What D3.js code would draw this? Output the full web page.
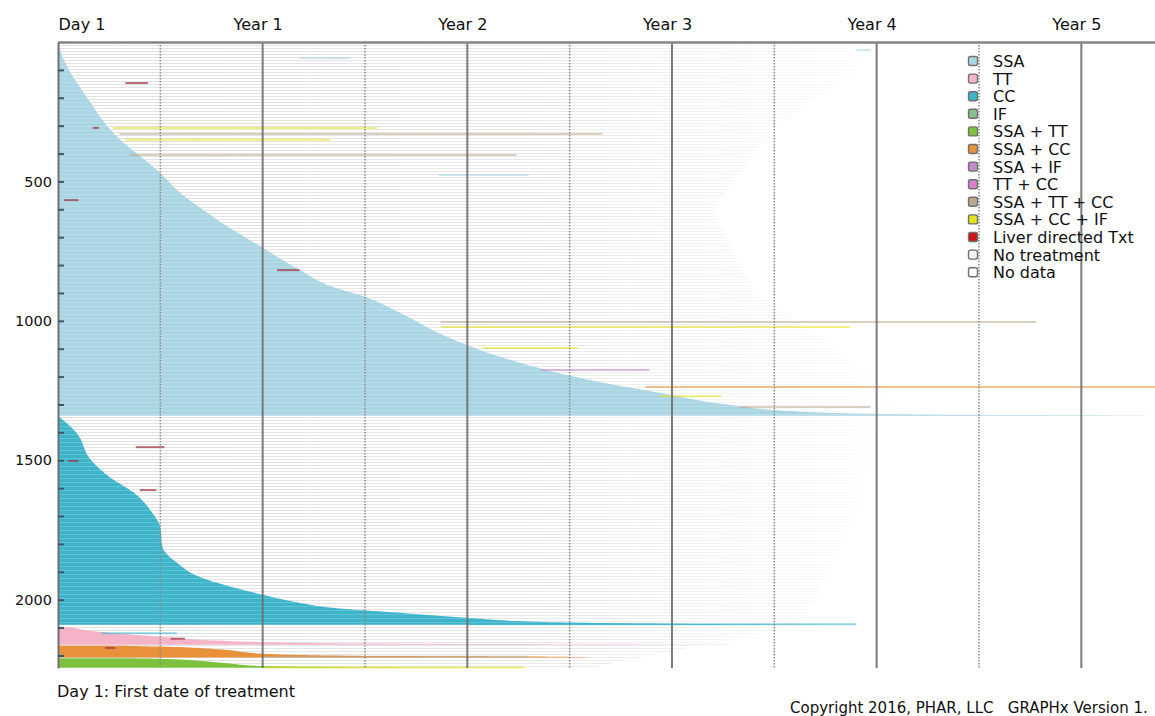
<!DOCTYPE html>
<html>
<head>
<meta charset="utf-8">
<script src="https://cdn.jsdelivr.net/npm/d3@7/dist/d3.min.js"></script>
<style>
  html, body { margin: 0; padding: 0; background: #fff; }
  svg { display: block; }
</style>
</head>
<body>
<svg id="chart" width="1155" height="716"></svg>
<script>
// ---- data ----
// x: years since first treatment, y: patient row (sorted within each block)
const yearTicks = [0, 1, 2, 3, 4, 5];
const yearLabels = ["Day 1", "Year 1", "Year 2", "Year 3", "Year 4", "Year 5"];
const halfYearTicks = [0.5, 1.5, 2.5, 3.5, 4.5];
const rowLabels = [500, 1000, 1500, 2000];
const rowMinorTicks = d3.range(100, 2300, 100);
const totalRows = 2245;
const maxYears = 5.36;

// legend
const categories = ["SSA", "TT", "CC", "IF", "SSA + TT", "SSA + CC", "SSA + IF", "TT + CC",
  "SSA + TT + CC", "SSA + CC + IF", "Liver directed Txt", "No treatment", "No data"];
const categoryColors = ["#aad5e3", "#f5b3c7", "#3cb4c9", "#86c08a", "#7dc23f", "#e8903a", "#bf8cc8",
  "#d97fcb", "#b9a990", "#e6e21e", "#d0141a", "#f2f2f2", "#ffffff"];

// boundary of each block: [row, years on first treatment]
const ssaBlock = [[0, 0], [29, 0.01], [208, 0.15], [326, 0.27], [470, 0.5], [530, 0.58], [638, 0.78],
  [738, 1.0], [817, 1.18], [878, 1.34], [914, 1.5], [971, 1.67], [1057, 1.9], [1147, 2.24],
  [1211, 2.59], [1258, 2.94], [1301, 3.28], [1326, 3.63], [1336, 4.23], [1340, 5.36]];
const ccBlock = [[1340, 0], [1401, 0.09], [1498, 0.16], [1559, 0.25], [1616, 0.37], [1688, 0.46],
  [1738, 0.5], [1810, 0.51], [1867, 0.58], [1918, 0.69], [1953, 0.84], [1982, 1.0], [2011, 1.18],
  [2029, 1.34], [2047, 1.67], [2065, 2.0], [2078, 2.3], [2086, 3.0], [2090, 3.9]];
const ttBlock = [[2096, 0], [2099, 0.06], [2108, 0.12], [2133, 0.5], [2151, 0.94], [2157, 1.5],
  [2160, 2.6], [2162, 3.6]];
const ssaCcBlock = [[2165, 0.3], [2168, 0.5], [2179, 0.8], [2194, 1.0], [2201, 1.4], [2204, 2.3],
  [2207, 2.6]];
const ssaTtBlock = [[2210, 0.35], [2212, 0.5], [2226, 0.8], [2238, 1.0], [2241, 1.3], [2244, 2.3]];

// follow-up without treatment (faint grey rows): [row, years]
const followUp = [[0, 4.0], [100, 3.9], [300, 3.5], [600, 3.2], [900, 3.4], [1100, 3.8],
  [1340, 4.2], [1345, 4.0], [1700, 3.9], [2000, 3.7], [2095, 3.6], [2245, 2.6]];

// single later-line treatments: [row, start year, end year, category index]
const extraLines = [[29, 3.9, 3.97, 0], [57, 1.18, 1.43, 0], [308, 0.27, 1.56, 9], [330, 0.3, 2.66, 8],
  [351, 0.33, 1.33, 9], [405, 0.35, 2.24, 8], [477, 1.86, 2.3, 0], [1004, 1.87, 4.78, 8],
  [1022, 1.87, 3.87, 9], [1097, 2.08, 2.54, 9], [1176, 2.36, 2.89, 6], [1237, 2.87, 5.36, 5],
  [1270, 2.94, 3.24, 9], [1309, 3.33, 3.97, 8], [2120, 0.21, 0.58, 2], [2088, 2.0, 3.9, 2],
  [2205, 1.0, 2.3, 8], [2243, 1.0, 2.28, 9]];

// liver directed treatment marks: [row, start year, end year]
const liverMarks = [[147, 0.33, 0.44], [308, 0.17, 0.2], [567, 0.03, 0.1], [818, 1.07, 1.18],
  [1453, 0.38, 0.52], [1503, 0.05, 0.1], [1607, 0.4, 0.48], [2140, 0.55, 0.62], [2173, 0.23, 0.28]];

// ---- layout ----
const svg = d3.select("#chart");
const margin = { left: 58, top: 42, right: 0, bottom: 48 };
const width = 1155, height = 716;
const fontFamily = "'DejaVu Sans', Verdana, sans-serif";

const x = d3.scaleLinear().domain([0, maxYears]).range([margin.left, width]);
const y = d3.scaleLinear().domain([0, totalRows]).range([margin.top, height - margin.bottom]);

const defs = svg.append("defs");
defs.append("pattern")
  .attr("id", "rows")
  .attr("patternUnits", "userSpaceOnUse")
  .attr("width", 6).attr("height", 3)
  .append("rect")
  .attr("width", 6).attr("height", 1)
  .attr("fill", "#c4c4c4");
defs.append("pattern")
  .attr("id", "rowsWhite")
  .attr("patternUnits", "userSpaceOnUse")
  .attr("width", 6).attr("height", 4)
  .append("rect")
  .attr("y", 2)
  .attr("width", 6).attr("height", 0.8)
  .attr("fill", "#ffffff");

// fade of the grey follow-up rows towards later years
const fade = defs.append("linearGradient")
  .attr("id", "fadeGrad")
  .attr("gradientUnits", "userSpaceOnUse")
  .attr("x1", x(0)).attr("x2", x(4.2)).attr("y1", 0).attr("y2", 0);
fade.append("stop").attr("offset", 0).attr("stop-color", "#fff").attr("stop-opacity", 1);
fade.append("stop").attr("offset", 0.55).attr("stop-color", "#fff").attr("stop-opacity", 0.75);
fade.append("stop").attr("offset", 1).attr("stop-color", "#fff").attr("stop-opacity", 0);
defs.append("mask")
  .attr("id", "fadeMask")
  .attr("maskUnits", "userSpaceOnUse")
  .attr("x", 0).attr("y", 0).attr("width", width).attr("height", height)
  .append("rect")
  .attr("width", width).attr("height", height)
  .attr("fill", "url(#fadeGrad)");

const area = d3.area()
  .y(d => y(d[0]))
  .x0(x(0))
  .x1(d => x(d[1]))
  .curve(d3.curveMonotoneY);

// 1. no-treatment follow up
svg.append("path")
  .datum(followUp)
  .attr("d", d3.area().y(d => y(d[0])).x0(x(0)).x1(d => x(d[1])).curve(d3.curveLinear))
  .attr("fill", "url(#rows)")
  .attr("mask", "url(#fadeMask)")
  .attr("opacity", 0.5);

// 2. treatment blocks
const blocks = [
  { data: ssaBlock, color: categoryColors[0], striped: true },
  { data: ccBlock, color: categoryColors[2], striped: true },
  { data: ttBlock, color: categoryColors[1], striped: false },
  { data: ssaCcBlock, color: categoryColors[5], striped: false },
  { data: ssaTtBlock, color: categoryColors[4], striped: false }
];
const blockG = svg.append("g");
blocks.forEach(b => {
  blockG.append("path").datum(b.data).attr("d", area).attr("fill", b.color);
  if (b.striped) {
    blockG.append("path").datum(b.data).attr("d", area).attr("fill", "url(#rowsWhite)").attr("opacity", 0.25);
  }
});

// 3. other treatment lines
svg.append("g").selectAll("line.extra")
  .data(extraLines)
  .join("line")
  .attr("class", "extra")
  .attr("x1", d => x(d[1])).attr("x2", d => x(d[2]))
  .attr("y1", d => y(d[0])).attr("y2", d => y(d[0]))
  .attr("stroke", d => categoryColors[d[3]])
  .attr("stroke-width", 2)
  .attr("opacity", 0.55);

svg.append("g").selectAll("line.liver")
  .data(liverMarks)
  .join("line")
  .attr("class", "liver")
  .attr("x1", d => x(d[1])).attr("x2", d => x(d[2]))
  .attr("y1", d => y(d[0])).attr("y2", d => y(d[0]))
  .attr("stroke", "#a03040")
  .attr("stroke-width", 2)
  .attr("opacity", 0.7);

// 4. grid lines
const grid = svg.append("g");
grid.selectAll("line.half")
  .data(halfYearTicks)
  .join("line")
  .attr("class", "half")
  .attr("x1", d => x(d)).attr("x2", d => x(d))
  .attr("y1", y(0)).attr("y2", y(totalRows))
  .attr("stroke", "#8a8a8a")
  .attr("stroke-width", 1.5)
  .attr("stroke-dasharray", "1.5,1.5");
grid.selectAll("line.year")
  .data(yearTicks.slice(1))
  .join("line")
  .attr("class", "year")
  .attr("x1", d => x(d)).attr("x2", d => x(d))
  .attr("y1", y(0)).attr("y2", y(totalRows))
  .attr("stroke", "#6e6e6e")
  .attr("stroke-width", 2)
  .attr("opacity", 0.9);

// 5. axes
const topAxis = svg.append("g")
  .attr("transform", `translate(0,${margin.top})`)
  .call(d3.axisTop(x).tickValues(yearTicks).tickSize(0).tickFormat((d, i) => yearLabels[i]));
topAxis.select(".domain").attr("stroke", "#858585").attr("stroke-width", 2.5);
topAxis.selectAll("text")
  .attr("y", -12)
  .attr("dx", d => d === 0 ? 0 : -5)
  .attr("text-anchor", d => d === 0 ? "start" : "middle")
  .style("font-family", fontFamily)
  .style("font-size", "16px")
  .style("fill", "#111");

const leftAxis = svg.append("g")
  .attr("transform", `translate(${margin.left},0)`)
  .call(d3.axisLeft(y).tickValues(rowLabels).tickSize(0).tickPadding(6).tickFormat(d3.format("d")));
leftAxis.select(".domain").attr("stroke", "#707070").attr("stroke-width", 2);
leftAxis.selectAll("text")
  .style("font-family", fontFamily)
  .style("font-size", "14.5px")
  .style("fill", "#111");

svg.append("g")
  .attr("transform", `translate(${margin.left},0)`)
  .call(d3.axisLeft(y).tickValues(rowMinorTicks).tickSize(-6).tickFormat(""))
  .call(g => g.select(".domain").remove())
  .selectAll("line").attr("stroke", "#3a5a6a").attr("stroke-width", 2);

// 6. legend
const legend = svg.append("g").attr("transform", "translate(973,61)");
const item = legend.selectAll("g")
  .data(categories)
  .join("g")
  .attr("transform", (d, i) => `translate(0,${i * 17.6})`);
item.append("rect")
  .attr("x", -4.5).attr("y", -4.5)
  .attr("width", 9).attr("height", 9)
  .attr("rx", 2)
  .attr("fill", (d, i) => categoryColors[i])
  .attr("stroke", "#707070")
  .attr("stroke-width", 1.4);
item.append("text")
  .attr("x", 20)
  .attr("y", 6)
  .text(d => d)
  .style("font-family", fontFamily)
  .style("font-size", "16px")
  .style("fill", "#111");

// 7. footnotes
svg.append("text")
  .attr("x", 57).attr("y", 697)
  .text("Day 1: First date of treatment")
  .style("font-family", fontFamily)
  .style("font-size", "16px")
  .style("fill", "#111");
svg.append("text")
  .attr("x", 790).attr("y", 713)
  .attr("xml:space", "preserve")
  .text("Copyright 2016, PHAR, LLC   GRAPHx Version 1.")
  .style("font-family", fontFamily)
  .style("font-size", "15px")
  .style("fill", "#111");
</script>
</body>
</html>
